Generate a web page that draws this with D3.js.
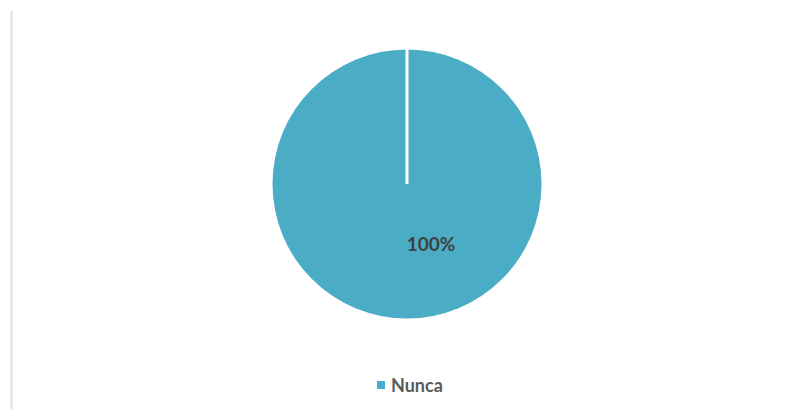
<!DOCTYPE html>
<html>
<head>
<meta charset="utf-8">
<script src="https://cdn.jsdelivr.net/npm/d3@7"></script>
<style>
  body { margin: 0; background: #fff; }
  svg { display: block; }
</style>
</head>
<body>
<svg id="chart" width="791" height="412"></svg>
<script>
// data
var categories = ["Nunca"];
var values = [100];
var colors = ["#4bacc6"];

var svg = d3.select("#chart");
var width = 791, height = 412;

// left frame line
svg.append("line")
    .attr("x1", 11.5).attr("x2", 11.5)
    .attr("y1", 11).attr("y2", 410)
    .style("stroke", "#e0e0e0")
    .style("stroke-width", 2);

var cx = 407, cy = 184, radius = 134.5;

var pie = d3.pie().sort(null).value(function(d){ return d; });
var arc = d3.arc().innerRadius(0).outerRadius(radius);
var arcs = pie(values);

var g = svg.append("g").attr("transform", "translate(" + cx + "," + cy + ")");

g.selectAll("path.slice")
    .data(arcs)
    .enter().append("path")
    .attr("class", "slice")
    .attr("d", arc)
    .style("fill", function(d, i){ return colors[i]; });

// slice border edge (white radial line at the slice start)
g.selectAll("line.edge")
    .data(arcs)
    .enter().append("line")
    .attr("class", "edge")
    .attr("x1", 0).attr("y1", 0)
    .attr("x2", function(d){ return (radius + 3) * Math.sin(d.startAngle); })
    .attr("y2", function(d){ return -(radius + 3) * Math.cos(d.startAngle); })
    .style("stroke", "#fff")
    .style("stroke-width", 3);

var total = d3.sum(values);

// data label (Excel puts it a bit right of the bottom)
g.selectAll("text.lbl")
    .data(arcs)
    .enter().append("text")
    .attr("class", "lbl")
    .attr("x", 24)
    .attr("y", 62)
    .attr("text-anchor", "middle")
    .attr("dominant-baseline", "middle")
    .style("font-family", "Lato, 'Open Sans', sans-serif")
    .style("font-weight", "bold")
    .style("font-size", "19px")
    .style("fill", "#404040")
    .text(function(d){ return Math.round(d.value / total * 100) + "%"; });

// legend
var legend = svg.append("g").attr("transform", "translate(377,381)");
categories.forEach(function(c, i){
    legend.append("rect")
        .attr("x", 0).attr("y", 0)
        .attr("width", 8).attr("height", 8)
        .style("fill", colors[i]);
    legend.append("text")
        .attr("x", 14).attr("y", 6)
        .attr("dominant-baseline", "middle")
        .style("font-family", "Lato, 'Open Sans', sans-serif")
        .style("font-weight", "bold")
        .style("font-size", "18px")
        .style("fill", "#595959")
        .text(c);
});
</script>
</body>
</html>
